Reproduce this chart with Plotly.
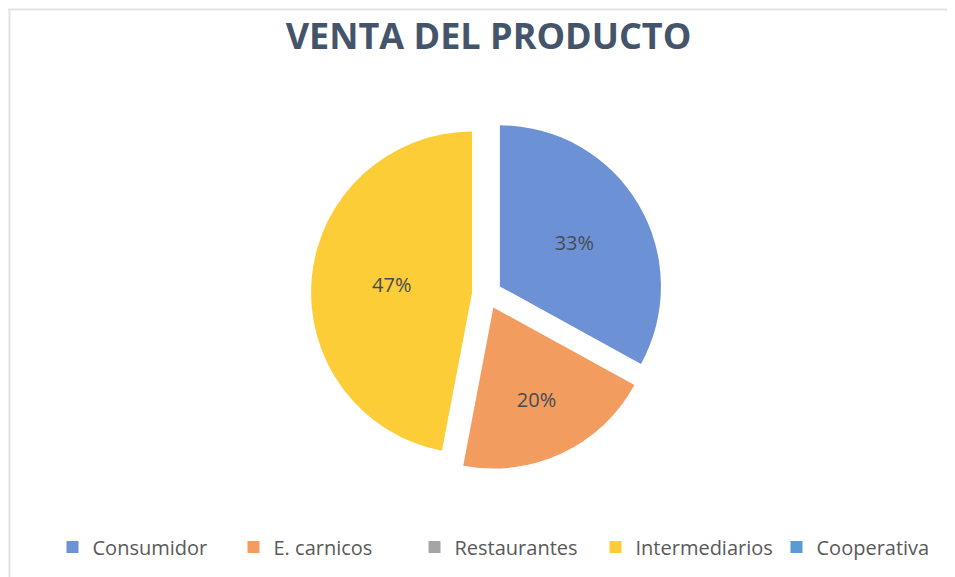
import plotly.graph_objects as go

labels = ["Consumidor", "E. carnicos", "Restaurantes", "Intermediarios", "Cooperativa"]
values = [33, 20, 0, 47, 0]
colors = ["#6d91d5", "#f29c60", "#a5a5a5", "#fdcd38", "#5b9bd5"]
pulls = [0.093, 0.093, 0.093, 0.093, 0.093]
title_text = "VENTA DEL PRODUCTO"

# page body has an 8px margin, so the figure is drawn 8px in from the window edge
OFF = 8
W, H = 955 - OFF, 577 - OFF

texts = ["%{percent:.0%}" if v > 0 else "" for v in values]

fig = go.Figure(go.Pie(
    labels=labels,
    values=values,
    sort=False,
    direction="clockwise",
    rotation=0,
    pull=pulls,
    marker=dict(colors=colors, line=dict(width=0)),
    texttemplate=texts,
    textposition="inside",
    insidetextorientation="horizontal",
    textfont=dict(family="Open Sans", size=20, color="#454b55"),
    domain=dict(x=[(311 - OFF) / W, (663 - OFF) / W],
                y=[(H - (470 - OFF)) / H, (H - (118 - OFF)) / H]),
    hoverinfo="label+percent",
))

fig.update_layout(
    width=W, height=H,
    margin=dict(l=0, r=0, t=0, b=0, autoexpand=False),
    paper_bgcolor="white",
    title=dict(text="<b>" + title_text + "</b>", x=(488.5 - OFF) / W, xanchor="center",
               y=1 - (36 - OFF) / H, yanchor="middle",
               font=dict(family="Open Sans", size=36, color="#44546A")),
    legend=dict(orientation="h", x=(505 - OFF) / W, xanchor="center",
                y=(H - (547 - OFF)) / H, yanchor="middle",
                font=dict(family="Open Sans", size=20, color="#595959"),
                itemwidth=30, traceorder="normal",
                entrywidth=136, entrywidthmode="pixels"),
    showlegend=True,
    shapes=[
        dict(type="line", xref="paper", yref="paper", x0=0, x1=1.01,
             y0=1 - 1.5 / H, y1=1 - 1.5 / H,
             line=dict(color="#e3e3e3", width=2)),
        dict(type="line", xref="paper", yref="paper", x0=1.5 / W, x1=1.5 / W,
             y0=-0.02, y1=1 - 1.5 / H,
             line=dict(color="#e3e3e3", width=2)),
    ],
)

fig.write_html("out.html")
